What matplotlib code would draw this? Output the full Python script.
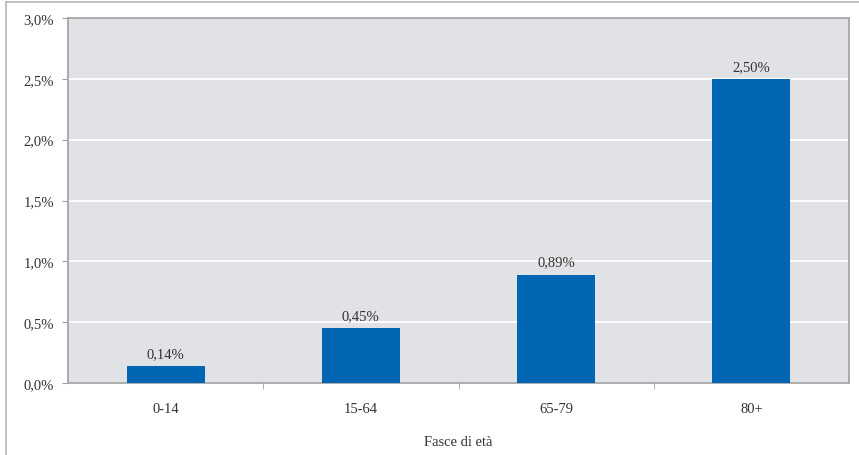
import matplotlib.pyplot as plt
from matplotlib.lines import Line2D
from matplotlib.ticker import FixedLocator, FuncFormatter

# dati per fascia di età
fasce = ['0-14', '15-64', '65-79', '80+']
valori = [0.14, 0.45, 0.89, 2.50]

plt.rcParams['font.family'] = ['Liberation Serif', 'DejaVu Serif']

fig = plt.figure(figsize=(8.59, 4.56), dpi=100)
ax = fig.add_axes([68 / 859, 1 - 384 / 456, 781 / 859, 365 / 456])

ax.set_facecolor('#e1e2e5')
ax.set_axisbelow(True)
ax.grid(axis='y', color='white', linewidth=1.3)

x = range(len(fasce))
bars = ax.bar(x, valori, width=0.4, color='#0066b3', zorder=3)

for xi, v in zip(x, valori):
    ax.text(xi, v + 0.05, f'{v:.2f}%'.replace('.', ','), ha='center', va='bottom',
            fontsize=10.5, color='#333333')

ax.set_xlim(-0.5, len(fasce) - 0.5)
ax.set_ylim(0, 3.0)
ax.set_yticks([0, 0.5, 1.0, 1.5, 2.0, 2.5, 3.0])
ax.yaxis.set_major_formatter(FuncFormatter(lambda v, p: f'{v:.1f}%'.replace('.', ',')))

ax.set_xticks(list(x))
ax.set_xticklabels(fasce)
ax.xaxis.set_minor_locator(FixedLocator([i + 0.5 for i in range(len(fasce) - 1)]))
ax.tick_params(axis='x', which='major', length=0, pad=14, labelsize=10.5, labelcolor='#333333')
ax.tick_params(axis='x', which='minor', length=4, color='#a0a0a0')
ax.tick_params(axis='y', length=4, color='#a0a0a0', labelsize=10.5, labelcolor='#333333', pad=6)

for s in ax.spines.values():
    s.set_color('#a6a6a6')
    s.set_linewidth(1.3)

ax.set_xlabel('Fasce di età', fontsize=10.5, color='#333333', labelpad=14)

# cornice esterna: solo lato sinistro e superiore
fx, fy = 6 / 859, 1 - 3 / 456
fig.add_artist(Line2D([fx, fx], [0, fy], transform=fig.transFigure,
                      color='#b8b8b8', linewidth=1.2))
fig.add_artist(Line2D([fx, 1], [fy, fy], transform=fig.transFigure,
                      color='#b8b8b8', linewidth=1.2))

fig.savefig('out.png', dpi=100)
